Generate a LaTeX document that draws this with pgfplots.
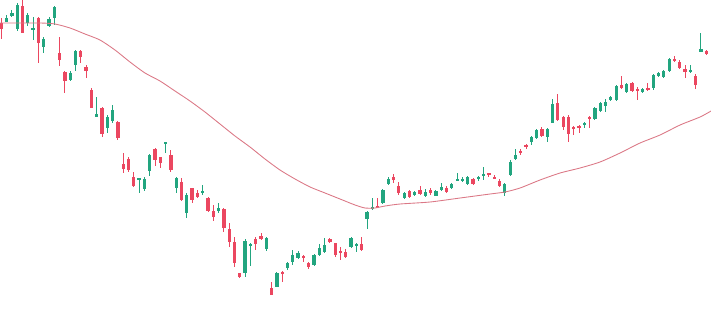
\documentclass[border=0pt]{standalone}
\usepackage{pgfplots}
\pgfplotsset{compat=1.18}
\usepackage{pgfplotstable}

\definecolor{up}{HTML}{22A57F}
\definecolor{down}{HTML}{EB4760}
\definecolor{ma}{HTML}{DB7886}

% OHLC in screen units (smaller value = higher price)
\pgfplotstableread{
i o h l c
0 23 18 39 29
1 22 15 22 18
2 16 10 17 13
3 29 3 31 5
4 6 0 33 33
5 23 13 26 15
6 30 17 40 28
7 18 17 63 43
8 47 37 53 39
9 26 17 27 19
10 18 6 25 7
11 53 37 66 60
12 72 71 93 81
13 80 71 81 73
14 65 50 71 51
15 51 50 63 57
16 67 65 78 71
17 90 88 108 108
18 117 97 117 114
19 108 107 137 134
20 128 115 133 117
21 121 105 123 110
22 122 121 140 138
23 164 153 173 169
24 159 157 172 170
25 177 172 187 186
26 179 178 193 178
27 189 177 191 179
28 171 154 176 155
29 149 148 166 160
30 157 157 168 163
31 143 142 153 142
32 155 150 172 170
33 188 177 193 178
34 182 178 201 200
35 213 193 218 195
36 188 188 203 200
37 193 190 198 197
38 193 185 195 191
39 198 197 212 211
40 211 205 221 217
41 211 203 213 208
42 209 208 232 228
43 229 223 247 242
44 242 237 267 263
45 273 273 278 277
46 273 239 277 241
47 245 243 266 244
48 239 237 250 244
49 236 233 240 239
50 249 237 251 238
51 288 282 295 295
52 287 272 287 273
53 272 271 282 274
54 268 262 270 263
55 262 250 265 255
56 258 251 259 253
57 256 255 262 258
58 263 262 269 267
59 265 254 266 255
60 255 244 256 248
61 252 238 253 245
62 239 238 243 242
63 243 243 257 255
64 251 247 260 252
65 252 249 258 257
66 247 237 248 238
67 246 243 252 244
68 244 237 251 250
69 219 211 229 212
70 209 198 210 207
71 206 198 208 208
72 203 189 204 190
73 184 177 185 179
74 177 174 183 180
75 186 182 195 193
76 198 192 199 193
77 191 190 198 197
78 195 191 196 192
79 190 186 195 194
80 196 189 197 192
81 190 188 195 193
82 196 190 196 191
83 190 183 191 187
84 188 186 193 192
85 188 183 189 184
86 180 173 180 179
87 181 177 182 179
88 184 176 185 177
89 179 178 185 184
90 179 176 181 177
91 175 167 180 174
92 173 173 177 175
93 177 175 179 179
94 181 179 187 186
95 193 183 196 184
96 175 160 176 162
97 159 149 160 155
98 151 149 155 153
99 145 144 149 146
100 142 136 145 137
101 138 129 139 130
102 129 127 137 136
103 137 128 142 129
104 123 99 123 104
105 103 94 121 120
106 117 116 130 127
107 117 115 142 134
108 127 126 135 129
109 126 125 133 128
110 124 122 128 123
111 117 116 128 119
112 119 107 120 108
113 111 102 112 103
114 106 99 112 102
115 100 96 101 97
116 100 85 101 86
117 85 76 89 88
118 92 83 93 84
119 83 82 92 91
120 89 87 100 91
121 92 88 93 89
122 88 83 91 90
123 88 74 90 75
124 76 72 77 73
125 77 70 78 71
126 71 58 72 59
127 59 56 62 61
128 62 60 69 68
129 69 65 78 72
130 71 65 73 70
131 76 74 89 85
132 52 33 52 49
133 51 50 55 54
}\ohlc

\pgfplotsset{
  rising/.style={restrict expr to domain={\thisrow{o}-\thisrow{c}}{0.5:1000}},
  falling/.style={restrict expr to domain={\thisrow{c}-\thisrow{o}}{0.5:1000}},
  wick/.style={draw=none, mark=none, forget plot,
    error bars/.cd, y dir=both, y explicit, error mark=none,
    error bar style={line width=0.4pt, draw=#1}},
  body/.style={draw=none, mark=none, forget plot,
    error bars/.cd, y dir=both, y explicit, error mark=none,
    error bar style={line width=1.3pt, draw=#1}},
}

\begin{document}
\begin{tikzpicture}
\useasboundingbox (0,0) rectangle (10cm,4.4726cm);
\begin{axis}[
  at={(0,0)}, anchor=south west,
  scale only axis, width=10cm, height=4.4726cm,
  xmin=-0.245, xmax=133.9, ymin=0, ymax=318,
  y dir=reverse, hide axis, clip=true,
]
% rising candles
\addplot[rising, wick=up]
  table[x=i, y expr={(\thisrow{h}+\thisrow{l})/2}, y error expr={(\thisrow{l}-\thisrow{h})/2}] {\ohlc};
\addplot[rising, body=up]
  table[x=i, y expr={(\thisrow{o}+\thisrow{c})/2}, y error expr={max(abs(\thisrow{o}-\thisrow{c})/2,0.6)}] {\ohlc};
% falling candles
\addplot[falling, wick=down]
  table[x=i, y expr={(\thisrow{h}+\thisrow{l})/2}, y error expr={(\thisrow{l}-\thisrow{h})/2}] {\ohlc};
\addplot[falling, body=down]
  table[x=i, y expr={(\thisrow{o}+\thisrow{c})/2}, y error expr={max(abs(\thisrow{o}-\thisrow{c})/2,0.6)}] {\ohlc};
% moving average
\addplot[ma, line width=0.35pt, smooth, tension=0.4, mark=none] coordinates {
(-0.25,23) (7.30,23) (10.13,24) (12.96,28) (15.79,34) (18.62,40) (21.45,50)
(24.28,62) (27.11,73) (29.94,81) (32.77,91) (35.60,101) (38.43,112) (41.26,124)
(44.09,136) (46.92,147) (49.75,159) (52.58,170) (55.42,179) (58.25,187)
(61.08,193) (63.91,199) (66.74,205) (68.62,208) (70.51,208) (72.40,206)
(75.23,204) (80.89,202) (86.55,198) (92.21,194) (95.04,192) (97.87,188)
(101.64,180) (105.42,173) (109.19,168) (112.96,162) (116.74,153) (120.51,143)
(124.28,135) (128.06,125) (131.83,117) (133.91,111)
};
\end{axis}
\end{tikzpicture}
\end{document}
